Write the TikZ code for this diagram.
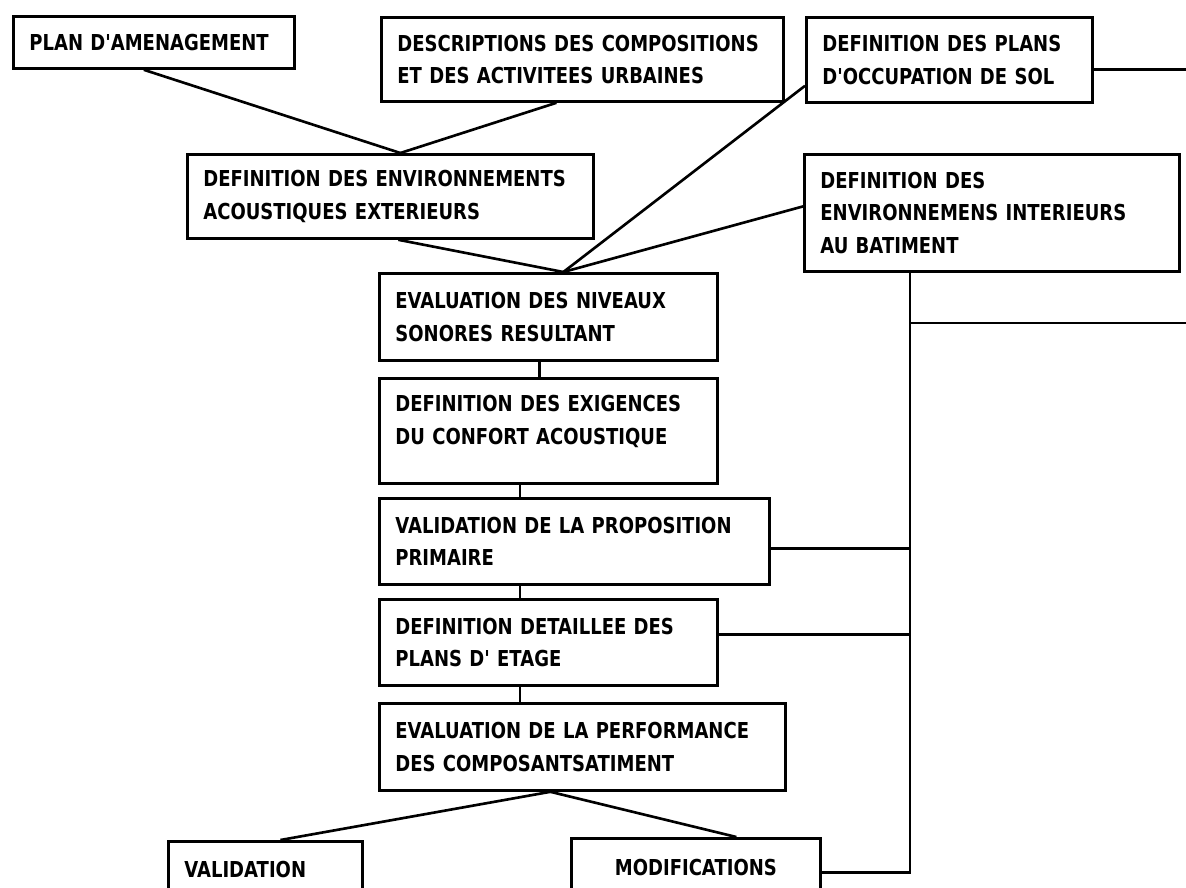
\documentclass[tikz,border=0pt]{standalone}
\usepackage{fontspec}
\newfontfamily\boxfont{DejaVu Sans}[FakeStretch=0.82]
\tikzset{
  bx/.style={draw=black,line width=1.6pt,anchor=north west,align=left,
    inner xsep=0.32cm,inner ysep=3pt,
    font=\boxfont\bfseries\fontsize{12.5}{18.6}\selectfont,
    execute at begin node={\hyphenpenalty=10000\relax}},
  bxc/.style={bx,align=center},
  ln/.style={draw=black,line width=1.5pt},
}
\begin{document}
\begin{tikzpicture}[x=0.02cm,y=-0.02cm]
\useasboundingbox (0,0) rectangle (1186,887);
% ---------------- inputs
\node[bx,text width=4.98cm,minimum height=1.04cm] (plan) at (12,15) {PLAN D'AMENAGEMENT};
\node[bx,text width=7.40cm,minimum height=1.68cm] (desc) at (380,16)
  {DESCRIPTIONS DES COMPOSITIONS\\ ET DES ACTIVITEES URBAINES};
\node[bx,text width=5.08cm,minimum height=1.70cm] (occup) at (805,16)
  {DEFINITION DES PLANS\\ D'OCCUPATION DE SOL};
\node[bx,text width=7.48cm,minimum height=1.68cm] (envext) at (186,153)
  {DEFINITION DES ENVIRONNEMENTS\\ ACOUSTIQUES EXTERIEURS};
\node[bx,text width=6.86cm,minimum height=2.34cm] (envint) at (803,153)
  {DEFINITION DES\\ ENVIRONNEMENS INTERIEURS\\ AU BATIMENT};
% ---------------- main chain
\node[bx,text width=6.12cm,minimum height=1.74cm] (niveaux) at (378,272)
  {EVALUATION DES NIVEAUX\\ SONORES RESULTANT};
\node[bx,text width=6.12cm,minimum height=2.10cm] (exig) at (378,377)
  {DEFINITION DES EXIGENCES\\ DU CONFORT ACOUSTIQUE\rule[-0.44cm]{0pt}{0.44cm}};
\node[bx,text width=7.16cm,minimum height=1.72cm] (propo) at (378,497)
  {VALIDATION DE LA PROPOSITION\\ PRIMAIRE};
\node[bx,text width=6.12cm,minimum height=1.72cm] (etage) at (378,598)
  {DEFINITION DETAILLEE DES\\ PLANS D' ETAGE};
\node[bx,text width=7.48cm,minimum height=1.74cm] (perf) at (378,702)
  {EVALUATION DE LA PERFORMANCE\\ DES COMPOSANTSATIMENT};
% ---------------- outcomes
\node[bx,text width=3.24cm,minimum height=1.12cm] (valid) at (167,840) {VALIDATION};
\node[bxc,text width=4.34cm,minimum height=1.16cm] (modif) at (570,837) {MODIFICATIONS};
% ---------------- connectors
\coordinate (spine) at (520,0);
\coordinate (bus) at (910,0);
\coordinate (edge) at (1186,0);
\draw[ln] ([xshift=-0.2cm]plan.south) -- ([xshift=0.2cm]envext.north);
\draw[ln] ([xshift=-0.52cm]desc.south) -- ([xshift=0.2cm]envext.north);
\draw[ln] ([xshift=0.16cm]envext.south) -- ([xshift=0.3cm]niveaux.north);
\draw[ln] ([yshift=0.36cm]occup.south west) -- ([xshift=0.3cm]niveaux.north);
\draw[ln] ([yshift=0.13cm]envint.west) -- ([xshift=0.3cm]niveaux.north);
\draw[ln] ([xshift=-0.18cm]niveaux.south) -- ([xshift=-0.18cm]exig.north);
\draw[ln] (exig.south -| spine) -- (propo.north -| spine);
\draw[ln] (propo.south -| spine) -- (etage.north -| spine);
\draw[ln] (etage.south -| spine) -- (perf.north -| spine);
\draw[ln] ([xshift=-0.64cm]perf.south) -- ([xshift=0.3cm]valid.north);
\draw[ln] ([xshift=-0.64cm]perf.south) -- ([xshift=0.81cm]modif.north);
% the bus on the right
\draw[ln] ([yshift=-0.19cm]occup.east) coordinate (o1) -- (o1 -| edge);
\draw[ln] (envint.south -| bus) -- ([yshift=-0.1cm]modif.east -| bus)
  -- ([yshift=-0.1cm]modif.east);
\draw[ln] (bus |- 0,323) -- (edge |- 0,323);
\draw[ln] ([yshift=-0.14cm]propo.east) -- ([yshift=-0.14cm]propo.east -| bus);
\draw[ln] ([yshift=0.16cm]etage.east) -- ([yshift=0.16cm]etage.east -| bus);
\end{tikzpicture}
\end{document}
